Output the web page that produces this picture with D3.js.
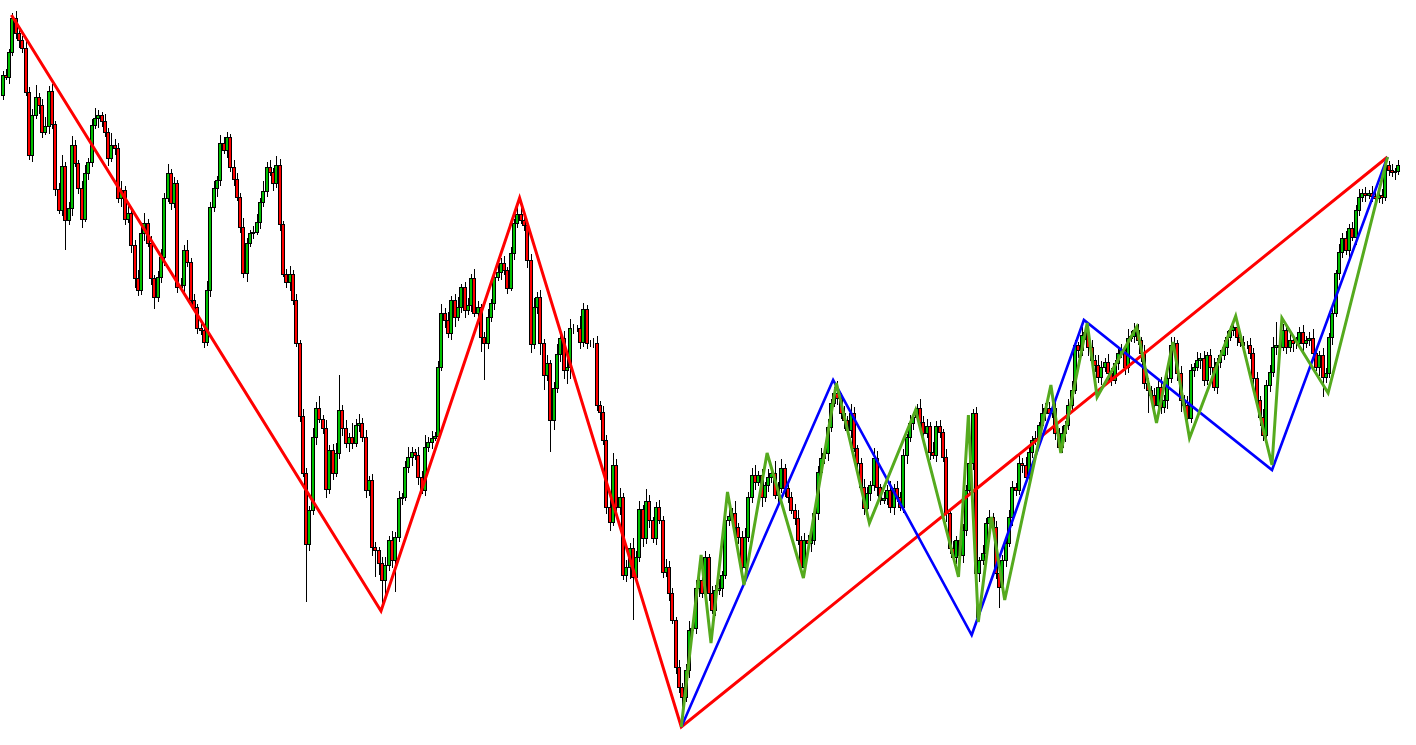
<!DOCTYPE html>
<html>
<head>
<meta charset="utf-8">
<script src="https://cdn.jsdelivr.net/npm/d3@7"></script>
<style>
  body { margin: 0; background: #fff; }
  svg { display: block; }
</style>
</head>
<body>
<div id="chart"></div>
<script>
// Candle data (price levels), one entry per bar
var firstOpen = 705;

var closes = [
  725,723,748,782,767,760,752,708,645,685,703,695,668,674,709,676,611,590,634,580,
  592,655,637,612,581,627,638,675,682,685,679,668,642,655,652,602,610,581,587,555,
  522,510,567,577,557,522,503,523,543,602,627,597,617,513,515,550,538,500,493,472,
  470,458,510,593,612,620,657,650,663,633,621,603,573,527,557,567,568,578,598,609,
  633,628,617,635,576,526,518,526,500,457,384,327,256,290,363,392,381,372,311,350,
  327,347,390,372,357,363,357,375,377,363,310,320,253,250,237,220,235,260,240,263,
  302,303,333,343,348,345,323,310,353,358,362,364,433,487,480,467,500,483,493,513,
  490,495,522,487,493,463,457,483,497,523,528,537,530,512,547,577,586,580,575,540,
  456,493,503,457,425,437,380,412,446,462,430,433,472,472,472,458,491,457,457,457,
  395,388,360,293,278,335,293,303,225,233,252,223,243,291,262,299,280,262,293,280,
  228,233,207,180,133,113,103,130,170,172,212,220,207,243,207,190,210,212,225,280,
  284,287,273,263,233,263,303,325,318,325,303,315,323,327,305,312,332,312,303,290,
  282,260,233,260,257,260,287,328,342,347,373,397,407,402,387,380,370,387,352,337,
  313,292,307,315,342,313,300,302,310,293,312,303,293,345,363,377,383,392,378,367,
  374,348,345,374,368,343,287,252,243,260,245,270,310,337,387,227,240,247,277,283,
  273,227,213,240,257,283,313,310,337,335,323,348,360,362,375,387,392,387,392,367,
  353,367,375,395,410,455,450,465,468,453,440,435,423,433,438,427,420,437,447,450,
  433,462,464,470,460,447,417,410,405,395,413,393,400,422,455,457,427,400,395,382,
  430,433,440,442,420,445,433,413,438,445,453,463,470,473,463,458,455,455,447,422,
  400,383,365,415,428,453,455,453,470,453,460,457,457,468,457,460,462,447,433,445,
  423,427,463,487,527,548,562,550,572,563,590,603,607,605,607,604,602,605,603,635,
  630,628,629,635
];

var wickUp = [
  4,6,3,5,7,3,4,8,5,6,12,4,6,9,5,7,3,6,11,4,
  6,9,5,3,7,8,4,6,10,5,3,7,4,12,6,5,9,4,7,3,
  5,8,6,10,4,7,3,6,8,5,9,4,6,3,7,5,10,4,6,3,
  4,6,9,5,7,4,8,6,5,3,7,6,4,9,5,3,6,8,4,10,
  5,7,4,9,6,3,5,8,4,6,3,7,5,4,9,6,12,4,8,5,
  6,10,35,5,8,4,14,6,9,5,7,4,6,5,3,6,8,4,9,5,
  7,4,6,10,5,3,8,6,12,5,7,4,6,9,5,8,4,6,10,3,
  5,7,4,9,6,3,5,8,4,6,10,5,7,3,6,4,8,6,5,4,
  6,9,5,7,4,8,3,6,10,5,7,14,9,4,3,12,6,4,3,5,
  7,4,6,5,8,12,6,9,4,7,5,10,6,8,4,12,6,3,5,7,
  4,8,6,5,3,7,4,6,9,5,8,4,10,6,3,7,5,9,4,6,
  8,5,12,4,6,9,5,7,10,4,6,3,8,5,12,6,9,4,7,5,
  6,8,4,7,5,9,3,6,10,5,8,4,6,12,5,7,4,9,6,3,
  5,8,6,4,10,7,3,6,5,9,4,7,5,6,3,8,5,4,9,6,
  7,4,10,5,6,3,8,5,7,4,12,6,5,9,4,6,3,8,5,7,
  4,6,9,5,3,7,6,4,10,5,8,6,4,7,3,9,5,6,4,8,
  5,7,4,6,9,5,3,8,6,4,7,5,10,6,4,8,5,3,7,6,
  4,9,5,7,6,3,8,5,4,7,6,10,5,4,8,6,3,7,5,9,
  6,4,8,5,7,3,6,9,4,5,7,6,4,8,5,3,6,4,7,5,
  6,4,8,5,7,10,23,5,6,4,8,3,6,5,7,4,6,9,5,4,
  7,5,4,6,3,8,5,7,4,6,5,8,4,6,3,7,5,4,6,5,
  4,6,3,5
];

var wickDown = [
  5,3,7,4,6,8,5,4,5,7,4,9,6,3,8,5,7,4,6,30,
  5,8,4,6,9,3,7,5,4,10,6,5,8,4,7,5,9,6,4,8,
  10,6,5,8,4,7,12,5,6,9,4,7,5,6,4,8,5,7,4,6,
  5,6,4,7,5,9,6,4,8,5,7,4,6,5,9,4,6,3,7,5,
  6,4,8,5,7,3,6,9,5,4,6,4,58,7,5,8,4,6,9,5,
  7,4,6,8,5,9,6,4,7,5,8,6,9,27,12,30,15,6,8,32,
  5,7,4,6,9,5,8,4,6,5,7,3,6,4,8,5,7,10,4,6,
  8,5,7,4,9,15,37,6,5,7,4,8,5,6,3,7,5,4,6,8,
  9,5,7,12,15,6,32,10,5,8,9,14,12,6,4,7,5,6,4,5,
  6,8,5,7,9,4,6,8,5,7,12,43,6,5,9,6,8,5,7,4,
  6,5,8,4,7,6,15,5,8,4,6,9,5,7,8,4,6,5,9,4,
  6,8,5,7,4,9,5,6,8,4,10,5,7,6,4,8,5,9,6,4,
  7,5,8,6,4,9,5,7,4,6,8,5,4,7,6,9,5,8,4,6,
  5,7,4,8,6,9,5,4,7,6,8,5,4,6,9,5,7,4,8,6,
  5,8,4,7,6,5,9,6,4,7,5,8,6,4,7,45,9,5,7,4,
  8,6,21,5,7,4,9,6,5,8,4,7,6,5,9,4,8,6,5,7,
  4,6,9,5,7,4,8,6,5,9,4,7,6,8,5,10,6,4,7,5,
  8,6,4,7,5,9,6,23,5,8,4,7,6,9,5,4,8,12,6,10,
  5,7,4,9,6,5,8,4,7,6,5,8,4,6,9,5,7,4,6,8,
  5,9,6,4,7,5,8,6,4,7,5,9,6,4,8,5,6,7,4,9,
  20,6,5,8,4,7,6,5,9,4,8,6,5,7,4,6,8,5,7,4,
  6,5,8,4
];

// ZigZag pivots: bar index and price
var redBars    = [3, 115, 157, 206, 420];
var redPrices  = [785, 189, 602, 73, 643];

var blueBars   = [206, 252, 294, 328, 385, 420];
var bluePrices = [73, 420, 165, 480, 330, 643];

var greenBars   = [206, 212, 215, 220, 225, 232, 243, 253, 263, 277, 290, 293, 296, 300, 304,
                   318, 321, 329, 332, 344, 350, 355, 360, 374, 385, 388, 402, 420];
var greenPrices = [73, 245, 157, 308, 215, 347, 222, 417, 277, 390, 223, 385, 178, 283, 200,
                   415, 347, 477, 403, 473, 377, 458, 362, 484, 335, 482, 407, 643];

var svgWidth = 1416;
var svgHeight = 745;

var svg = d3.select("#chart")
    .append("svg")
    .attr("width", svgWidth)
    .attr("height", svgHeight);

// build bars
var bars = closes.map(function(c, i) {
    var o = i === 0 ? firstOpen : closes[i - 1];
    return {
        i: i,
        open: o,
        close: c,
        high: Math.max(o, c) + (wickUp[i] || 3),
        low: Math.min(o, c) - (wickDown[i] || 3)
    };
});

var xScale = d3.scaleLinear()
    .domain([0, 423])
    .range([1.5, 1397.4]);

var yScale = d3.scaleLinear()
    .domain([800, 55])
    .range([0, 745]);

var candles = svg.append("g").attr("shape-rendering", "crispEdges");

// wicks
candles.append("g").selectAll("line")
    .data(bars)
    .enter()
    .append("line")
    .attr("x1", d => Math.round(xScale(d.i)) + 1)
    .attr("x2", d => Math.round(xScale(d.i)) + 1)
    .attr("y1", d => yScale(d.high))
    .attr("y2", d => yScale(d.low))
    .attr("stroke", "#000")
    .attr("stroke-width", 1);

// bodies
candles.append("g").selectAll("rect")
    .data(bars)
    .enter()
    .append("rect")
    .attr("x", d => Math.round(xScale(d.i)) - 0.5)
    .attr("width", 3)
    .attr("y", d => Math.round(yScale(Math.max(d.open, d.close))) + 0.5)
    .attr("height", d => Math.max(0, Math.round(Math.abs(yScale(d.open) - yScale(d.close)))))
    .attr("fill", d => d.close >= d.open ? "#00c000" : "#ff0000")
    .attr("stroke", "#000")
    .attr("stroke-width", 1);

// zigzags
function drawZigzag(barIdx, prices, color, width) {
    var pts = barIdx.map(function(b, k) { return [b, prices[k]]; });
    var line = d3.line()
        .x(d => xScale(d[0]))
        .y(d => yScale(d[1]));
    svg.append("path")
        .datum(pts)
        .attr("d", line)
        .attr("fill", "none")
        .attr("stroke", color)
        .attr("stroke-width", width)
        .attr("stroke-linejoin", "miter");
}

drawZigzag(redBars, redPrices, "#ff0000", 3);
drawZigzag(blueBars, bluePrices, "#0000ff", 2.6);
drawZigzag(greenBars, greenPrices, "#55aa1e", 3);
</script>
</body>
</html>
